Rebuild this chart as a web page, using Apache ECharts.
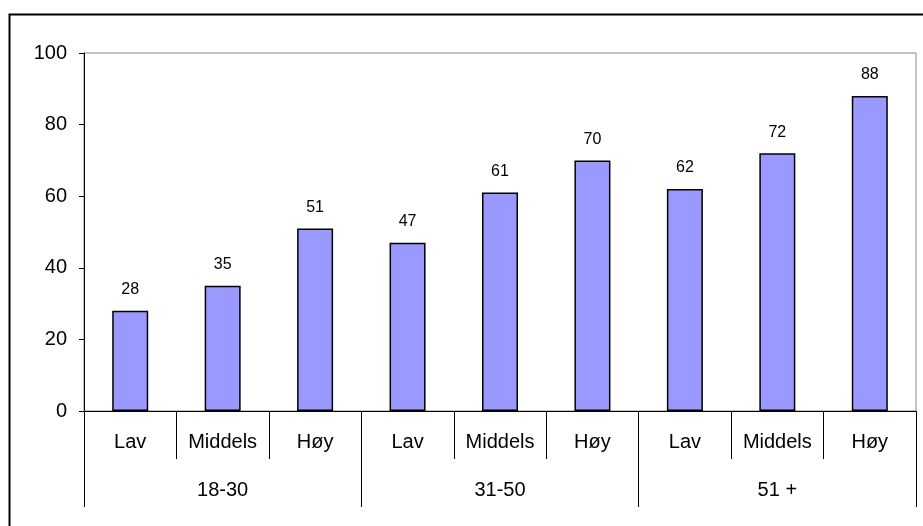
<!DOCTYPE html>
<html>
<head>
<meta charset="utf-8">
<script src="https://cdn.jsdelivr.net/npm/echarts@6/dist/echarts.min.js"></script>
<style>
  html, body { margin: 0; padding: 0; background: #fff; }
  #main { width: 923px; height: 526px; }
</style>
</head>
<body>
<div id="main"></div>
<script>
var levels = ['Lav', 'Middels', 'Høy', 'Lav', 'Middels', 'Høy', 'Lav', 'Middels', 'Høy'];
var ageGroups = ['18-30', '31-50', '51 +'];
var values = [28, 35, 51, 47, 61, 70, 62, 72, 88];

var myChart = echarts.init(document.getElementById('main'));
var font = 'Liberation Sans, Arial, sans-serif';

var option = {
    animation: false,
    textStyle: { fontFamily: font },
    graphic: [{
        type: 'rect',
        left: 7,
        top: 12,
        z: -10,
        shape: { width: 1000, height: 600 },
        style: { fill: 'none', stroke: '#000', lineWidth: 2 }
    }],
    grid: {
        left: 84,
        top: 53,
        right: 7,
        bottom: 115,
        show: true,
        borderColor: '#888',
        borderWidth: 1
    },
    xAxis: [
        {
            type: 'category',
            data: levels,
            position: 'bottom',
            axisLine: { show: true, lineStyle: { color: '#000', width: 1 } },
            axisTick: { show: true, alignWithLabel: false, interval: 0, length: 48, lineStyle: { color: '#000', width: 1 } },
            axisLabel: { interval: 0, margin: 21, color: '#000', fontSize: 20, fontFamily: font },
            splitLine: { show: false }
        },
        {
            type: 'category',
            data: ageGroups,
            position: 'bottom',
            axisLine: { show: false },
            axisTick: { show: true, interval: 0, length: 96, lineStyle: { color: '#000' } },
            axisLabel: { interval: 0, margin: 69, color: '#000', fontSize: 20, fontFamily: font },
            splitLine: { show: false }
        }
    ],
    yAxis: {
        type: 'value',
        min: 0,
        max: 100,
        interval: 20,
        axisLine: { show: true, lineStyle: { color: '#000' } },
        axisTick: { show: true, length: 5, lineStyle: { color: '#000' } },
        axisLabel: { margin: 17, color: '#000', fontSize: 20, fontFamily: font },
        splitLine: { show: false }
    },
    series: [{
        type: 'bar',
        xAxisIndex: 0,
        data: values,
        barWidth: 36,
        itemStyle: { color: '#9999ff', borderColor: '#000', borderWidth: 1.5 },
        label: {
            show: true,
            position: 'top',
            distance: 13,
            color: '#000',
            fontSize: 16,
            fontFamily: font
        }
    }]
};

myChart.setOption(option);
</script>
</body>
</html>
